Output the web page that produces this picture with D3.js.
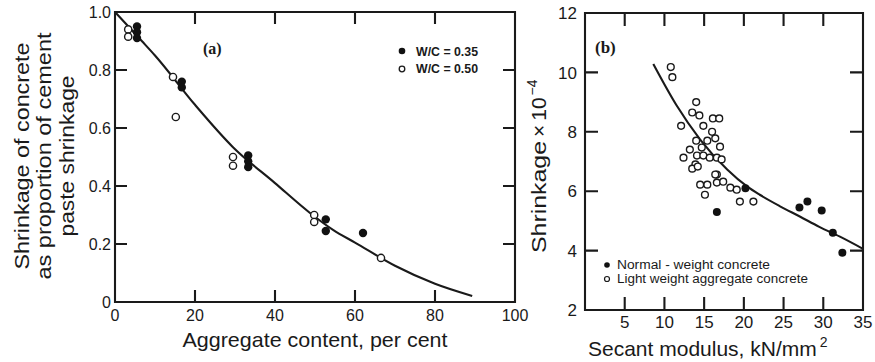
<!DOCTYPE html>
<html>
<head>
<meta charset="utf-8">
<script src="https://cdn.jsdelivr.net/npm/d3@7"></script>
<style>
  body { margin: 0; background: #fff; }
  svg { display: block; }
  .lbl { font-family: "Liberation Sans", Arial, sans-serif; fill: #1a1a1a; }
  .tag { font-family: "Liberation Serif", "Times New Roman", serif; font-weight: bold; fill: #1a1a1a; }
</style>
</head>
<body>
<svg id="chart" width="875" height="362" viewBox="0 0 875 362"></svg>
<script>
// ---- panel (a): aggregate content vs relative shrinkage ----
const aTicksX = [0, 20, 40, 60, 80, 100];
const aTicksY = [0, 0.2, 0.4, 0.6, 0.8, 1.0];
const aTickLabelsY = ['0', '0.2', '0.4', '0.6', '0.8', '1.0'];
const aWc035 = [[5.5, 0.95], [5.5, 0.93], [5.5, 0.91], [16.7, 0.76], [16.7, 0.74],
  [33.3, 0.505], [33.3, 0.485], [33.3, 0.465], [52.7, 0.285], [52.7, 0.245], [62, 0.238]];
const aWc050 = [[3.3, 0.94], [3.3, 0.915], [14.5, 0.776], [15.2, 0.638], [29.5, 0.50],
  [29.5, 0.47], [49.8, 0.30], [49.8, 0.276], [66.5, 0.152]];
const aCurve = [[0, 1.0], [6.7, 0.90], [10, 0.85], [20, 0.68], [29.5, 0.534], [40, 0.41],
  [48.75, 0.307], [54.6, 0.248], [60, 0.205], [70, 0.125], [80, 0.063], [89.3, 0.021]];

// ---- panel (b): secant modulus vs shrinkage ----
const bTicksX = [5, 10, 15, 20, 25, 30, 35];
const bTicksY = [2, 4, 6, 8, 10, 12];
const bNormal = [[16.6, 5.3], [20.2, 6.1], [27.0, 5.45], [28.0, 5.65], [29.8, 5.35], [31.2, 4.6], [32.4, 3.93]];
const bLight = [[10.8, 10.18], [11.0, 9.84], [14.0, 9.0], [13.5, 8.65], [14.4, 8.55], [16.1, 8.45],
  [16.9, 8.45], [12.1, 8.2], [14.9, 8.2], [16.0, 8.0], [14.0, 7.7], [15.4, 7.7], [16.4, 7.78],
  [17.0, 7.5], [14.7, 7.47], [13.2, 7.4], [12.4, 7.13], [14.1, 7.2], [14.9, 7.2], [15.7, 7.13],
  [16.6, 7.13], [17.2, 7.07], [13.9, 6.9], [13.5, 6.76], [14.2, 6.83], [16.6, 6.56], [14.5, 6.22],
  [15.4, 6.22], [16.6, 6.29], [17.4, 6.32], [18.3, 6.12], [19.1, 6.05], [15.1, 5.88], [19.5, 5.65],
  [21.2, 5.65], [16.4, 6.56]];
const bCurve = [[8.6, 10.28], [11.5, 8.9], [14.5, 7.74], [17.9, 6.73], [20.4, 6.16], [22, 5.88],
  [24.5, 5.5], [27.1, 5.14], [29.5, 4.8], [32.1, 4.47], [35, 4.06]];

const INK = '#1a1a1a';
const svg = d3.select('#chart');

// Boxed panel with inward ticks on all four sides.
// Frame, ticks and fitted curve go into one path so they render together.
function panel(cfg) {
  const x = d3.scaleLinear().domain(cfg.xDomain).range([cfg.left, cfg.right]);
  const y = d3.scaleLinear().domain(cfg.yDomain).range([cfg.bottom, cfg.top]);
  const g = svg.append('g');

  const innerX = cfg.xTicks.filter(v => v > cfg.xDomain[0] && v < cfg.xDomain[1]);
  const innerY = cfg.yTicks.filter(v => v > cfg.yDomain[0] && v < cfg.yDomain[1]);
  const L = cfg.tickLen;

  const p = d3.path();
  // fitted curve
  d3.line().x(d => x(d[0])).y(d => y(d[1])).curve(d3.curveMonotoneX).context(p)(cfg.curve);
  // frame
  p.moveTo(cfg.left, cfg.top);
  p.lineTo(cfg.right, cfg.top);
  p.lineTo(cfg.right, cfg.bottom);
  p.lineTo(cfg.left, cfg.bottom);
  p.closePath();
  // ticks
  innerX.forEach(v => {
    p.moveTo(x(v), cfg.bottom); p.lineTo(x(v), cfg.bottom - L);
    p.moveTo(x(v), cfg.top); p.lineTo(x(v), cfg.top + L);
  });
  innerY.forEach(v => {
    p.moveTo(cfg.left, y(v)); p.lineTo(cfg.left + L, y(v));
    p.moveTo(cfg.right, y(v)); p.lineTo(cfg.right - L, y(v));
  });
  g.append('path').attr('d', p.toString())
    .attr('fill', 'none').attr('stroke', INK).attr('stroke-width', 2.1);

  // tick labels
  g.selectAll('text.xl').data(cfg.xTicks).enter().append('text').attr('class', 'lbl xl')
    .attr('x', d => x(d)).attr('y', cfg.bottom + cfg.xLabelDy)
    .attr('text-anchor', 'middle').style('font-size', cfg.tickFont + 'px')
    .text(d => d);
  g.selectAll('text.yl').data(cfg.yTicks).enter().append('text').attr('class', 'lbl yl')
    .attr('x', cfg.left - cfg.yLabelDx).attr('y', d => y(d) + cfg.tickFont * 0.36)
    .attr('text-anchor', 'end').style('font-size', cfg.tickFont + 'px')
    .text((d, i) => cfg.yLabels ? cfg.yLabels[i] : d);

  // markers
  g.selectAll('circle.open').data(cfg.open).enter().append('circle')
    .attr('cx', d => x(d[0])).attr('cy', d => y(d[1])).attr('r', cfg.r)
    .attr('fill', '#fff').attr('stroke', INK).attr('stroke-width', 1.4);
  g.selectAll('circle.filled').data(cfg.filled).enter().append('circle')
    .attr('cx', d => x(d[0])).attr('cy', d => y(d[1])).attr('r', cfg.r + 0.6)
    .attr('fill', '#111');

  return { g, x, y };
}

// panel (a)
const pa = panel({
  left: 115, right: 515, top: 12, bottom: 302,
  xDomain: [0, 100], yDomain: [0, 1.0],
  xTicks: aTicksX, yTicks: aTicksY, yLabels: aTickLabelsY,
  tickLen: 12, tickFont: 16, xLabelDy: 19, yLabelDx: 4,
  curve: aCurve, open: aWc050, filled: aWc035, r: 3.6
});

pa.g.append('text').attr('class', 'tag').attr('x', 203).attr('y', 54)
  .style('font-size', '16px').text('(a)');

// legend (a)
pa.g.append('circle').attr('cx', 402).attr('cy', 51).attr('r', 3.3).attr('fill', '#111');
pa.g.append('circle').attr('cx', 402).attr('cy', 69).attr('r', 2.8)
  .attr('fill', '#fff').attr('stroke', INK).attr('stroke-width', 1.3);
pa.g.append('text').attr('class', 'lbl').attr('x', 416).attr('y', 56).style('font-size', '12px')
  .style('font-weight', 'bold').attr('textLength', 62).attr('lengthAdjust', 'spacingAndGlyphs')
  .text('W/C = 0.35');
pa.g.append('text').attr('class', 'lbl').attr('x', 416).attr('y', 73).style('font-size', '12px')
  .style('font-weight', 'bold').attr('textLength', 62).attr('lengthAdjust', 'spacingAndGlyphs')
  .text('W/C = 0.50');

// axis titles (a)
pa.g.append('text').attr('class', 'lbl').attr('x', 315).attr('y', 347).attr('text-anchor', 'middle')
  .style('font-size', '21px').attr('textLength', 265).attr('lengthAdjust', 'spacingAndGlyphs')
  .text('Aggregate content, per cent');
const aTitleY = ['Shrinkage of concrete', 'as proportion of cement', 'paste shrinkage'];
const aTitleLen = [227, 247, 161];
const aTitleX = [29, 51, 74];
aTitleY.forEach((t, i) => {
  pa.g.append('text').attr('class', 'lbl')
    .attr('transform', `translate(${aTitleX[i]},156) rotate(-90)`)
    .attr('text-anchor', 'middle').style('font-size', '21px')
    .attr('textLength', aTitleLen[i]).attr('lengthAdjust', 'spacingAndGlyphs')
    .text(t);
});

// panel (b)
const pb = panel({
  left: 585, right: 863, top: 13, bottom: 310,
  xDomain: [0, 35], yDomain: [2, 12],
  xTicks: bTicksX, yTicks: bTicksY,
  tickLen: 13, tickFont: 17, xLabelDy: 18, yLabelDx: 8,
  curve: bCurve, open: bLight, filled: bNormal, r: 3.4
});

pb.g.append('text').attr('class', 'tag').attr('x', 595).attr('y', 53)
  .style('font-size', '17px').text('(b)');

// legend (b)
pb.g.append('circle').attr('cx', 607).attr('cy', 265).attr('r', 2.8).attr('fill', '#111');
pb.g.append('circle').attr('cx', 607).attr('cy', 279).attr('r', 2.5)
  .attr('fill', '#fff').attr('stroke', INK).attr('stroke-width', 1.2);
pb.g.append('text').attr('class', 'lbl').attr('x', 617).attr('y', 269).style('font-size', '12px')
  .attr('textLength', 153).attr('lengthAdjust', 'spacingAndGlyphs')
  .text('Normal - weight concrete');
pb.g.append('text').attr('class', 'lbl').attr('x', 617).attr('y', 283).style('font-size', '12px')
  .attr('textLength', 191).attr('lengthAdjust', 'spacingAndGlyphs')
  .text('Light weight aggregate concrete');

// axis titles (b)
const bx = pb.g.append('text').attr('class', 'lbl').attr('x', 588).attr('y', 356).style('font-size', '21px');
bx.append('tspan').text('Secant modulus, kN/mm');
bx.append('tspan').attr('dx', 3).attr('dy', -9).style('font-size', '14px').text('2');

const by = pb.g.append('text').attr('class', 'lbl')
  .attr('transform', 'translate(546,253) rotate(-90)')
  .style('font-size', '21px');
by.append('tspan').attr('textLength', 112).attr('lengthAdjust', 'spacingAndGlyphs').text('Shrinkage');
by.append('tspan').attr('dx', 4).text('\u00d7');
by.append('tspan').attr('dx', 4).text('10');
by.append('tspan').attr('dx', 2).attr('dy', -9).style('font-size', '14px').text('\u22124');
</script>
</body>
</html>
